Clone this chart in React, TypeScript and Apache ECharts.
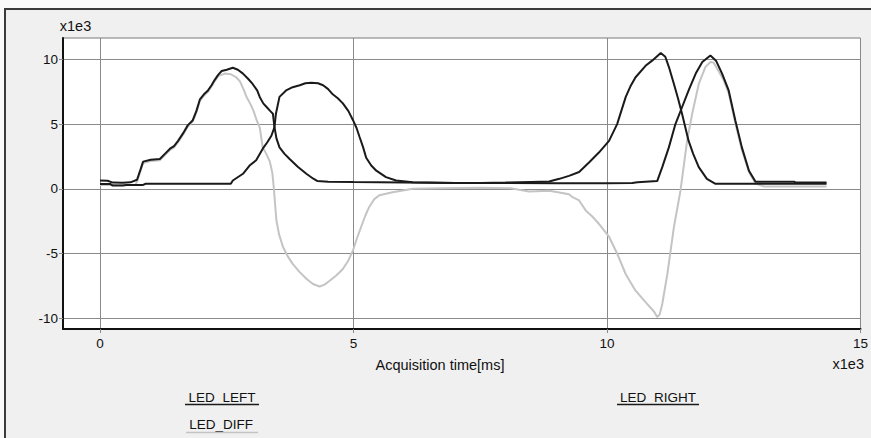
import React, { useEffect, useRef } from "react";
import * as echarts from "echarts";

// ---- Data (time in ms, values in raw units) ----
const leftTime = [0, 150, 250, 450, 600, 730, 800, 850, 1000, 1180, 1280, 1380, 1460, 1540, 1640, 1730, 1830, 1900, 1970, 2050, 2130, 2200, 2260, 2330, 2400, 2500, 2620, 2720, 2820, 2920, 3010, 3100, 3150, 3220, 3290, 3360, 3410, 3440, 3480, 3540, 3640, 3740, 3900, 4070, 4200, 4290, 4500, 5000, 6000, 7000, 8000, 9000, 10000, 10500, 10600, 10990, 11090, 11220, 11350, 11480, 11610, 11750, 11880, 12040, 12150, 12270, 12400, 12530, 12660, 12800, 12930, 13100, 13700, 13710, 14330];
const leftValue = [650, 620, 480, 460, 500, 700, 1500, 2100, 2250, 2300, 2700, 3100, 3300, 3700, 4300, 4900, 5300, 6000, 6900, 7300, 7600, 8000, 8400, 8800, 9100, 9200, 9350, 9200, 8900, 8500, 8100, 7600, 7100, 6600, 6300, 6000, 5800, 4800, 3900, 3200, 2700, 2300, 1700, 1160, 800, 600, 550, 520, 480, 450, 440, 430, 430, 450, 500, 600, 1670, 3200, 5000, 6300, 7600, 8900, 9800, 10300, 9900, 8900, 7600, 5300, 3200, 1400, 550, 550, 550, 480, 480];

const rightTime = [0, 200, 250, 450, 520, 850, 900, 2580, 2620, 2820, 2950, 3080, 3210, 3300, 3380, 3440, 3470, 3540, 3670, 3800, 3940, 4050, 4170, 4300, 4400, 4500, 4590, 4690, 4790, 4900, 4990, 5060, 5120, 5190, 5250, 5350, 5450, 5640, 5840, 6170, 7000, 7500, 8000, 8500, 8860, 9060, 9250, 9450, 9650, 9840, 10040, 10200, 10370, 10460, 10560, 10760, 10890, 11060, 11150, 11230, 11320, 11400, 11480, 11610, 11700, 11810, 11970, 12140, 13000, 14330];
const rightValue = [380, 380, 250, 250, 300, 300, 390, 390, 640, 1160, 1800, 2200, 3100, 3600, 4100, 4750, 5800, 7100, 7600, 7850, 8000, 8150, 8200, 8150, 8000, 7700, 7300, 7000, 6600, 6000, 5300, 4700, 4000, 3200, 2400, 1800, 1400, 900, 640, 500, 450, 450, 480, 530, 560, 770, 1000, 1300, 2050, 2800, 3700, 5000, 7100, 7900, 8600, 9500, 9900, 10500, 10200, 9300, 8100, 7000, 5800, 3700, 2700, 1670, 770, 390, 390, 390];

const diffTime = [0, 700, 730, 800, 850, 1000, 1180, 1280, 1380, 1460, 1540, 1640, 1730, 1830, 1900, 1970, 2050, 2130, 2200, 2260, 2330, 2460, 2580, 2690, 2760, 2830, 2890, 2960, 3030, 3090, 3150, 3210, 3280, 3350, 3400, 3430, 3460, 3480, 3530, 3610, 3700, 3800, 3930, 4070, 4200, 4330, 4430, 4530, 4660, 4790, 4890, 4990, 5070, 5150, 5230, 5310, 5410, 5510, 5770, 6170, 6690, 7500, 8100, 8460, 8860, 9060, 9250, 9320, 9450, 9580, 9700, 9840, 10040, 10200, 10370, 10560, 10760, 10930, 10990, 11040, 11090, 11190, 11320, 11450, 11580, 11680, 11810, 11940, 12040, 12100, 12200, 12300, 12400, 12530, 12660, 12800, 12930, 13100, 14330];
const diffValue = [300, 300, 550, 1400, 2000, 2150, 2200, 2600, 3000, 3200, 3600, 4200, 4800, 5200, 5900, 6800, 7200, 7500, 7900, 8300, 8700, 8900, 8850, 8600, 8300, 7700, 7100, 6600, 6000, 5300, 4750, 3200, 2700, 2100, 1200, 0, -1500, -2450, -3500, -4500, -5200, -5800, -6400, -6950, -7350, -7550, -7400, -7100, -6700, -6200, -5600, -4750, -3800, -2950, -2100, -1400, -800, -500, -260, 0, 50, 80, 40, -200, -150, -280, -420, -650, -900, -1670, -2100, -2700, -3700, -5000, -6600, -7850, -8750, -9500, -9900, -9700, -8900, -6600, -2950, -130, 3700, 5800, 8100, 9400, 9800, 9750, 9100, 8400, 7400, 5100, 3000, 1300, 400, 180, 180];

const xTicks = [0, 5000, 10000, 15000];
const yTicks = [-10000, -5000, 0, 5000, 10000];
const xRange = [-730, 15000];
const yRange = [-10830, 11650];

const legendNames = ["LED_LEFT", "LED_DIFF", "LED_RIGHT"];

const FONT = "'Liberation Sans', Arial, sans-serif";
const FS = 13.5;
const FS_TITLE = 14.5;

const pairs = (xs: number[], ys: number[]) => xs.map((x, i) => [x, ys[i]]);

export default function App() {
  const ref = useRef<HTMLDivElement>(null);
  useEffect(() => {
    if (!ref.current) return;
    const chart = echarts.init(ref.current, undefined, { renderer: "svg" });
    const labelStyle = { fontFamily: FONT, fontSize: FS, color: "#111" };
    chart.setOption({
      animation: false,
      backgroundColor: "transparent",
      grid: {
        left: 63,
        top: 38,
        right: 7,
        bottom: 109,
        show: true,
        backgroundColor: "#ffffff",
        borderColor: "#7a7a7a",
        borderWidth: 1,
      },
      xAxis: {
        type: "value",
        min: xRange[0],
        max: xRange[1],
        axisLine: { show: true, onZero: false, lineStyle: { color: "#111", width: 2 } },
        axisTick: { show: true, length: 4, customValues: xTicks, lineStyle: { color: "#8a8a8a" } },
        axisLabel: {
          ...labelStyle,
          margin: 7,
          customValues: xTicks,
          formatter: (v: number) => String(v / 1000),
        },
        splitLine: { show: true, lineStyle: { color: "#8a8a8a", width: 1 } },
      },
      yAxis: {
        type: "value",
        min: yRange[0],
        max: yRange[1],
        axisLine: { show: true, onZero: false, lineStyle: { color: "#111", width: 2 } },
        axisTick: { show: true, length: 4, customValues: yTicks, lineStyle: { color: "#8a8a8a" } },
        axisLabel: {
          ...labelStyle,
          margin: 5,
          customValues: yTicks,
          formatter: (v: number) => String(v / 1000),
        },
        splitLine: { show: true, lineStyle: { color: "#8a8a8a", width: 1 } },
      },
      series: [
        {
          name: legendNames[1],
          type: "line",
          showSymbol: false,
          data: pairs(diffTime, diffValue),
          lineStyle: { color: "#c4c4c4", width: 2 },
          itemStyle: { color: "#c4c4c4" },
          z: 2,
        },
        {
          name: legendNames[2],
          type: "line",
          showSymbol: false,
          data: pairs(rightTime, rightValue),
          lineStyle: { color: "#1a1a1a", width: 2 },
          itemStyle: { color: "#1a1a1a" },
          z: 3,
        },
        {
          name: legendNames[0],
          type: "line",
          showSymbol: false,
          data: pairs(leftTime, leftValue),
          lineStyle: { color: "#1a1a1a", width: 2 },
          itemStyle: { color: "#1a1a1a" },
          z: 4,
        },
      ],
      graphic: [
        { type: "text", x: 75.5, y: 26, style: { text: "x1e3", font: `${FS_TITLE}px ${FONT}`, fill: "#111", align: "center", verticalAlign: "middle" } },
        { type: "text", x: 864, y: 364, style: { text: "x1e3", font: `${FS_TITLE}px ${FONT}`, fill: "#111", align: "right", verticalAlign: "middle" } },
        { type: "text", x: 440, y: 365, style: { text: "Acquisition time[ms]", font: `${FS_TITLE}px ${FONT}`, fill: "#111", align: "center", verticalAlign: "middle" } },
        { type: "text", x: 222, y: 397, style: { text: legendNames[0], font: `${FS}px ${FONT}`, fill: "#111", align: "center", verticalAlign: "middle" } },
        { type: "line", shape: { x1: 185, y1: 404.5, x2: 259, y2: 404.5 }, style: { stroke: "#1a1a1a", lineWidth: 1.5 } },
        { type: "text", x: 221, y: 424, style: { text: legendNames[1], font: `${FS}px ${FONT}`, fill: "#111", align: "center", verticalAlign: "middle" } },
        { type: "line", shape: { x1: 186, y1: 432.5, x2: 258, y2: 432.5 }, style: { stroke: "#c4c4c4", lineWidth: 1.5 } },
        { type: "text", x: 658, y: 397, style: { text: legendNames[2], font: `${FS}px ${FONT}`, fill: "#111", align: "center", verticalAlign: "middle" } },
        { type: "line", shape: { x1: 617, y1: 404.5, x2: 699, y2: 404.5 }, style: { stroke: "#1a1a1a", lineWidth: 1.5 } },
      ],
    });
    return () => chart.dispose();
  }, []);

  return (
    <div style={{ position: "absolute", left: 0, top: 0, width: 871, height: 438, background: "#f9f9f9", overflow: "hidden" }}>
      <div
        style={{
          position: "absolute",
          left: 4,
          top: 8,
          width: 900,
          height: 500,
          background: "#f0f0f0",
          borderLeft: "2px solid #3a3a3a",
          borderTop: "2px solid #3a3a3a",
        }}
      />
      <div ref={ref} style={{ position: "absolute", left: 0, top: 0, width: 871, height: 438 }} />
    </div>
  );
}
